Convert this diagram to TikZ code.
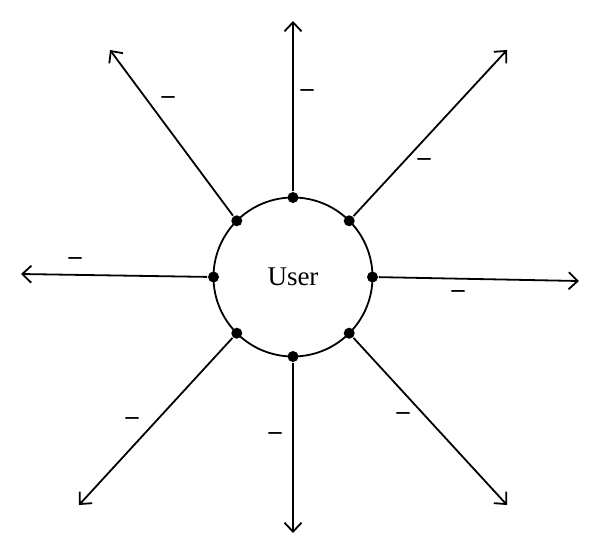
\documentclass[tikz,border=0pt]{standalone}
\usepackage{fontspec}
\setmainfont{Liberation Serif}
\usetikzlibrary{arrows.meta}
\begin{document}
\begin{tikzpicture}[x=1pt,y=-1pt,line width=1.8pt,
  dot/.style={circle,fill=black,inner sep=0pt,minimum size=11pt},
  ray/.style={-{Straight Barb[length=9pt,width=17pt]},line width=1.8pt},
  lbl/.style={font=\fontsize{26}{30}\selectfont\bfseries,inner sep=0pt}]
\useasboundingbox (0,0) rectangle (600,555);
\node[draw,circle,minimum size=159pt,inner sep=0pt,outer sep=0pt,font=\fontsize{27}{30}\selectfont] (user) at (293,277) {User};
\foreach \a/\n in {90/t,45/tr,0/r,-45/br,-90/b,-135/bl,180/l,135/tl}
  \node[dot] (d\n) at (user.\a) {};
\coordinate (et) at (293,21);
\coordinate (etr) at (507,50);
\coordinate (er) at (579,281);
\coordinate (ebr) at (507,505);
\coordinate (eb) at (293,533);
\coordinate (ebl) at (79,505);
\coordinate (el) at (21,274);
\coordinate (etl) at (110,50);
\foreach \n in {t,tr,r,br,b,bl,l,tl}
  \draw[ray] (d\n) -- (e\n);
\node[lbl] (lt) at (307,93) {–};
\node[lbl] (ltr) at (424,162) {–};
\node[lbl] (lr) at (458,294) {–};
\node[lbl] (lbr) at (403,416) {–};
\node[lbl] (lb) at (275,436) {–};
\node[lbl] (lbl) at (132,421) {–};
\node[lbl] (ll) at (75,261) {–};
\node[lbl] (ltl) at (168,100) {–};
\end{tikzpicture}
\end{document}
